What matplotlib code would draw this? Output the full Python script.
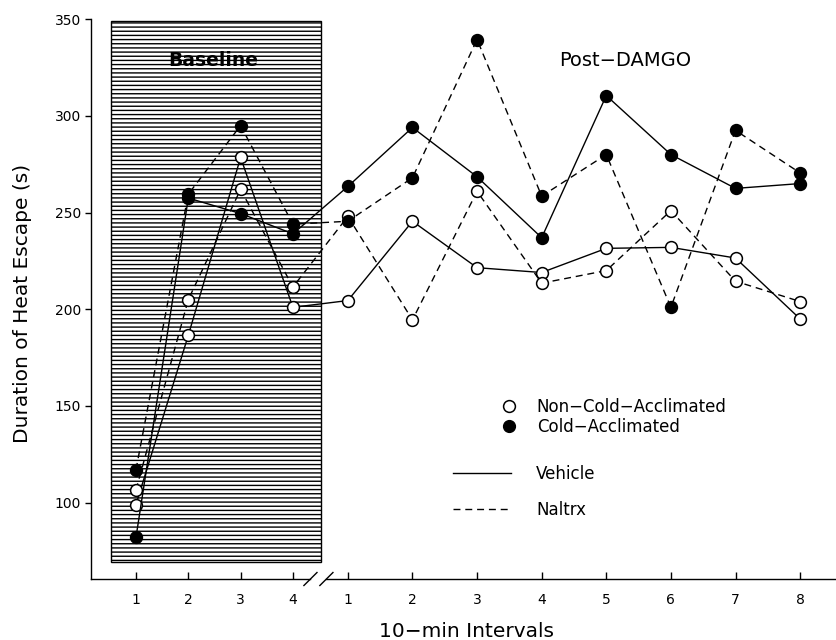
import numpy as np
import matplotlib
matplotlib.use("Agg")
import matplotlib.pyplot as plt
from matplotlib.patches import Rectangle
from matplotlib.lines import Line2D

# 10-min intervals: 4 baseline, then 8 post-DAMGO
base_ticks = [1, 2, 3, 4]
post_ticks = [1, 2, 3, 4, 5, 6, 7, 8]

# duration of heat escape (s), baseline 1-4 followed by post-DAMGO 1-8
noncold_vehicle = [99, 186.5, 278.5, 201, 204.5, 245.5, 221.5, 219, 231.5, 232, 226.5, 195]
noncold_naltrx = [106.5, 205, 262, 211.5, 248, 194.5, 261, 213.5, 220, 251, 214.5, 204]
cold_vehicle = [82, 257.5, 249.5, 239, 263.5, 294, 268.5, 237, 310.5, 280, 262.5, 265]
cold_naltrx = [117, 259.5, 295, 244, 245.5, 268, 339.5, 258.5, 280, 201, 292.5, 270.5]

plt.rcParams['hatch.linewidth'] = 1.0

# post-DAMGO intervals are drawn a bit wider apart, after the axis break
post_gap = 1.05
post_step = 1.235
xpos = list(base_ticks) + [base_ticks[-1] + post_gap + (k - 1) * post_step for k in post_ticks]
xlabels = [str(t) for t in base_ticks + post_ticks]

fig = plt.figure(figsize=(8.37, 6.4), dpi=100)
ax = fig.add_axes([0.1087, 0.0953, 0.8913, 0.8747])
xlo, xhi = 0.14, 14.4
ax.set_xlim(xlo, xhi)
ax.set_ylim(60.5, 350)

# baseline shaded block
ax.add_patch(Rectangle((0.52, 69.2), 4.015, 279.7, facecolor='white',
                       edgecolor='black', hatch='----', lw=1.0, zorder=1))

series = [
    (noncold_vehicle, '-', 'white'),
    (noncold_naltrx, (0, (5, 3.5)), 'white'),
    (cold_vehicle, '-', 'black'),
    (cold_naltrx, (0, (5, 3.5)), 'black'),
]
for vals, ls, fc in series:
    ax.plot(xpos, vals, color='black', lw=1.0, ls=ls, marker='o', ms=8.5,
            mfc=fc, mec='black', mew=1.1, zorder=3)

ax.set_xticks(xpos)
ax.set_xticklabels(xlabels)
ax.set_yticks([100, 150, 200, 250, 300, 350])
ax.tick_params(axis='x', direction='in', length=5, width=1, pad=10, labelsize=10)
ax.tick_params(axis='y', direction='out', length=4, width=1, pad=3, labelsize=10)
for s in ['top', 'right', 'bottom']:
    ax.spines[s].set_visible(False)
ax.spines['left'].set_linewidth(1.0)

# broken x axis
trans = ax.get_xaxis_transform()
ax.plot([xlo, 4.33], [0, 0], transform=trans, color='black', lw=1.0, clip_on=False)
ax.plot([4.64, xhi], [0, 0], transform=trans, color='black', lw=1.0, clip_on=False)
for cx in [4.335, 4.64]:
    ax.plot([cx - 0.125, cx + 0.125], [-0.0116, 0.0116], transform=trans,
            color='black', lw=1.0, clip_on=False)

ax.text(2.47, 328.7, 'Baseline', ha='center', va='center', fontsize=13.5,
        fontweight='bold', zorder=4)
ax.text(10.35, 328.7, 'Post\u2212DAMGO', ha='center', va='center', fontsize=14)

ax.text(-0.0912, 0.493, 'Duration of Heat Escape (s)', transform=ax.transAxes,
        rotation=90, ha='center', va='center', fontsize=14.5)
ax.text(0.5027, -0.0946, '10\u2212min Intervals', transform=ax.transAxes,
        ha='center', va='center', fontsize=14.5)

leg1 = ax.legend(
    handles=[Line2D([], [], ls='none', marker='o', ms=8.5, mfc='white', mec='black', mew=1.1),
             Line2D([], [], ls='none', marker='o', ms=8.5, mfc='black', mec='black')],
    labels=['Non\u2212Cold\u2212Acclimated', 'Cold\u2212Acclimated'],
    loc='center left', bbox_to_anchor=(501 / 837, 1 - 417 / 640),
    bbox_transform=fig.transFigure, frameon=False, fontsize=12,
    handlelength=1.0, handletextpad=1.15, labelspacing=0.15,
    borderpad=0, borderaxespad=0)
ax.add_artist(leg1)
ax.legend(
    handles=[Line2D([], [], color='black', lw=1.0, ls='-'),
             Line2D([], [], color='black', lw=1.0, ls=(0, (5, 3.5)))],
    labels=['Vehicle', 'Naltrx'],
    loc='center left', bbox_to_anchor=(453 / 837, 1 - 492 / 640),
    bbox_transform=fig.transFigure, frameon=False, fontsize=12,
    handlelength=3.5, handletextpad=1.5, labelspacing=1.1,
    borderpad=0, borderaxespad=0)

fig.savefig('out.png', dpi=100)
